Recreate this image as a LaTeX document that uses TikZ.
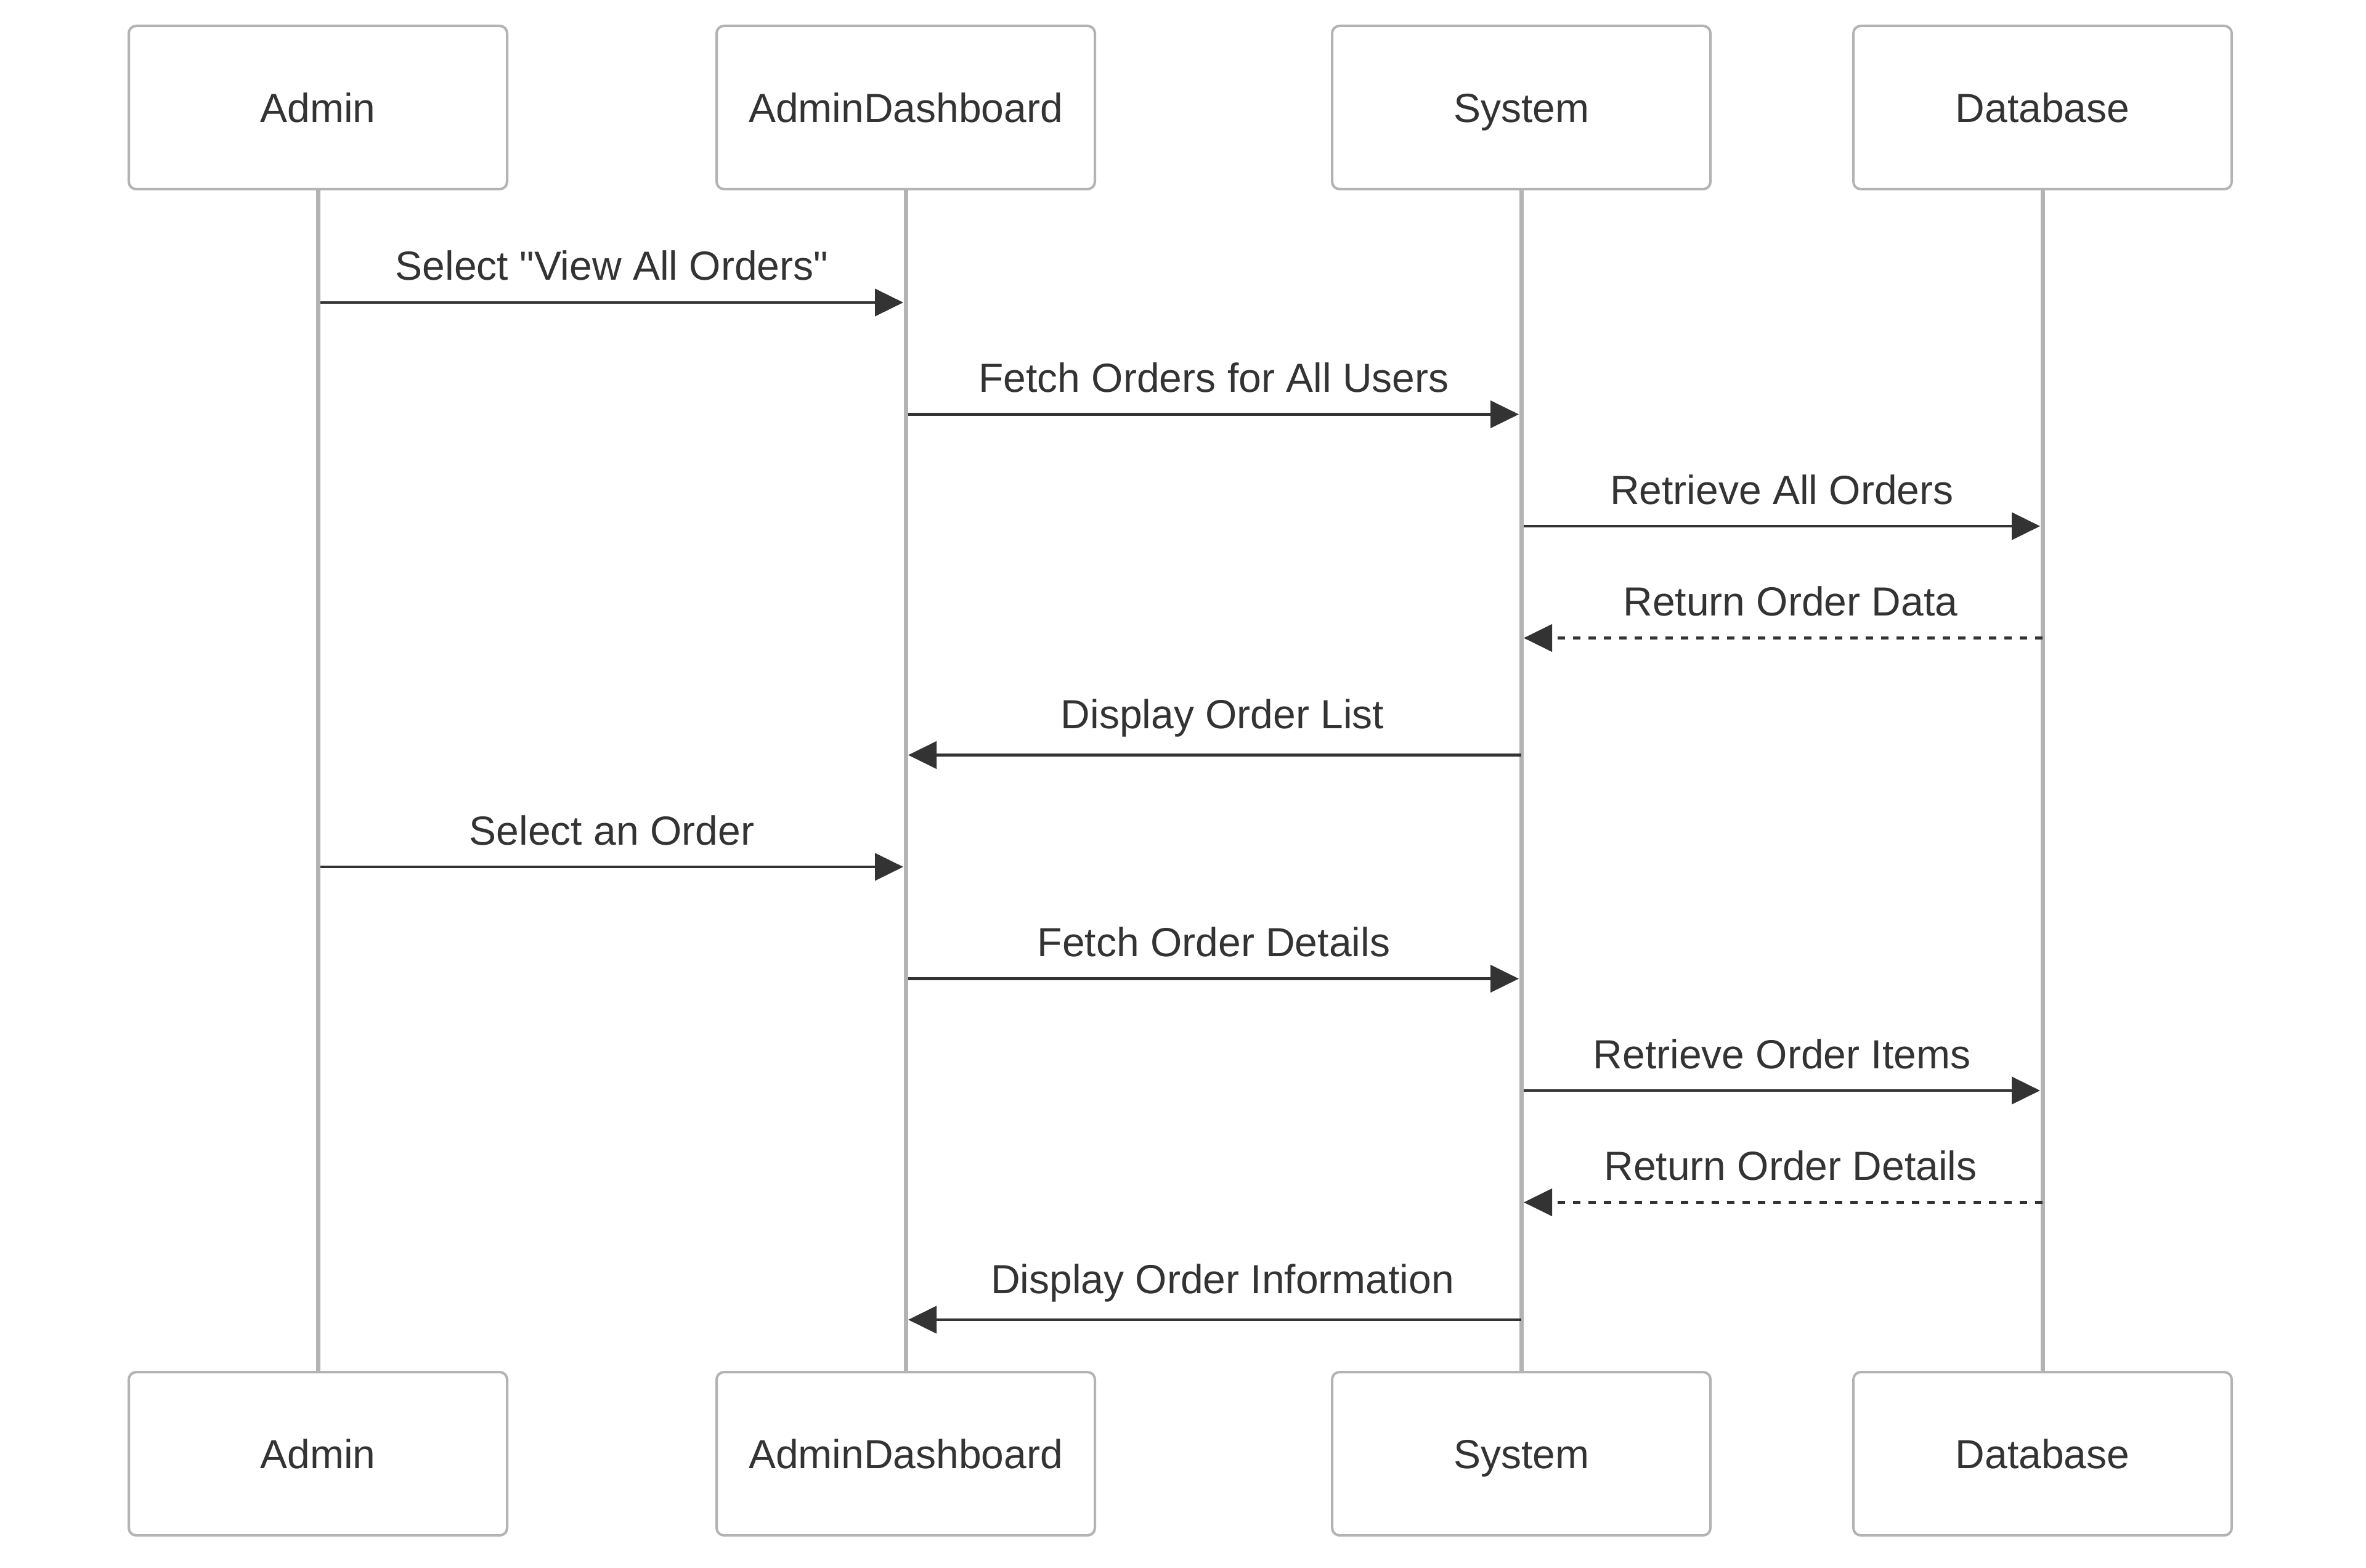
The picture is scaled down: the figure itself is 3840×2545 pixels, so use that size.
\documentclass[tikz,border=0pt]{standalone}
\usepackage{fontspec}
\newfontfamily\lsans{Liberation Sans}
\usetikzlibrary{arrows.meta}
\definecolor{ink}{HTML}{333333}
\definecolor{edgegray}{HTML}{B3B3B3}
\begin{document}
\begin{tikzpicture}[x=0.25pt,y=-0.25pt,
  actorbox/.style={draw=edgegray, line width=1pt, fill=white, rounded corners=3pt,
    minimum width=153.5pt, minimum height=66.25pt, inner sep=0pt,
    font=\lsans\fontsize{16.5}{20}\selectfont, text=ink, text height=11.8pt, text depth=0pt},
  lifeline/.style={draw=edgegray, line width=1.75pt},
  msgarrow/.style={draw=ink, line width=1.2pt, -{Triangle[length=11.5pt,width=11pt]}},
  replyarrow/.style={msgarrow, dash pattern=on 3pt off 3.25pt},
  msglabel/.style={font=\lsans\fontsize{16.5}{20}\selectfont, text=ink, anchor=base, inner sep=0pt}]
\useasboundingbox (0,0) rectangle (3840,2545);
\fill[white] (0,0) rectangle (3840,2545);

% actors top
\node[actorbox] (at) at (516,174.5) {Admin};
\node[actorbox] (dt) at (1470,174.5) {AdminDashboard};
\node[actorbox] (st) at (2469,174.5) {System};
\node[actorbox] (bt) at (3315,174.5) {Database};
% actors bottom
\node[actorbox] (ab) at (516,2359.5) {Admin};
\node[actorbox] (db) at (1470,2359.5) {AdminDashboard};
\node[actorbox] (sb) at (2469,2359.5) {System};
\node[actorbox] (bb) at (3315,2359.5) {Database};

% lifelines
\draw[lifeline] (at.south) -- (ab.north);
\draw[lifeline] (dt.south) -- (db.north);
\draw[lifeline] (st.south) -- (sb.north);
\draw[lifeline] (bt.south) -- (bb.north);

% message 1
\coordinate (s1) at (520,491); \coordinate (e1) at (1466,491);
\draw[msgarrow] (s1) -- (e1);
\node[msglabel] (l1) at (993,455) {Select "View All Orders"};
% message 2
\coordinate (s2) at (1474,672.5); \coordinate (e2) at (2465,672.5);
\draw[msgarrow] (s2) -- (e2);
\node[msglabel] (l2) at (1970,636.5) {Fetch Orders for All Users};
% message 3
\coordinate (s3) at (2473,854); \coordinate (e3) at (3311,854);
\draw[msgarrow] (s3) -- (e3);
\node[msglabel] (l3) at (2892,818) {Retrieve All Orders};
% message 4
\coordinate (s4) at (3315,1035.5); \coordinate (e4) at (2473,1035.5);
\draw[replyarrow] (s4) -- (e4);
\node[msglabel] (l4) at (2906,999.5) {Return Order Data};
% message 5
\coordinate (s5) at (2469,1225.5); \coordinate (e5) at (1474,1225.5);
\draw[msgarrow] (s5) -- (e5);
\node[msglabel] (l5) at (1984,1182) {Display Order List};
% message 6
\coordinate (s6) at (520,1407); \coordinate (e6) at (1466,1407);
\draw[msgarrow] (s6) -- (e6);
\node[msglabel] (l6) at (993,1371) {Select an Order};
% message 7
\coordinate (s7) at (1474,1588.5); \coordinate (e7) at (2465,1588.5);
\draw[msgarrow] (s7) -- (e7);
\node[msglabel] (l7) at (1970,1552.5) {Fetch Order Details};
% message 8
\coordinate (s8) at (2473,1770); \coordinate (e8) at (3311,1770);
\draw[msgarrow] (s8) -- (e8);
\node[msglabel] (l8) at (2892,1734) {Retrieve Order Items};
% message 9
\coordinate (s9) at (3315,1951.5); \coordinate (e9) at (2473,1951.5);
\draw[replyarrow] (s9) -- (e9);
\node[msglabel] (l9) at (2906,1915.5) {Return Order Details};
% message 10
\coordinate (s10) at (2469,2142); \coordinate (e10) at (1474,2142);
\draw[msgarrow] (s10) -- (e10);
\node[msglabel] (l10) at (1984,2099) {Display Order Information};
\end{tikzpicture}
\end{document}
